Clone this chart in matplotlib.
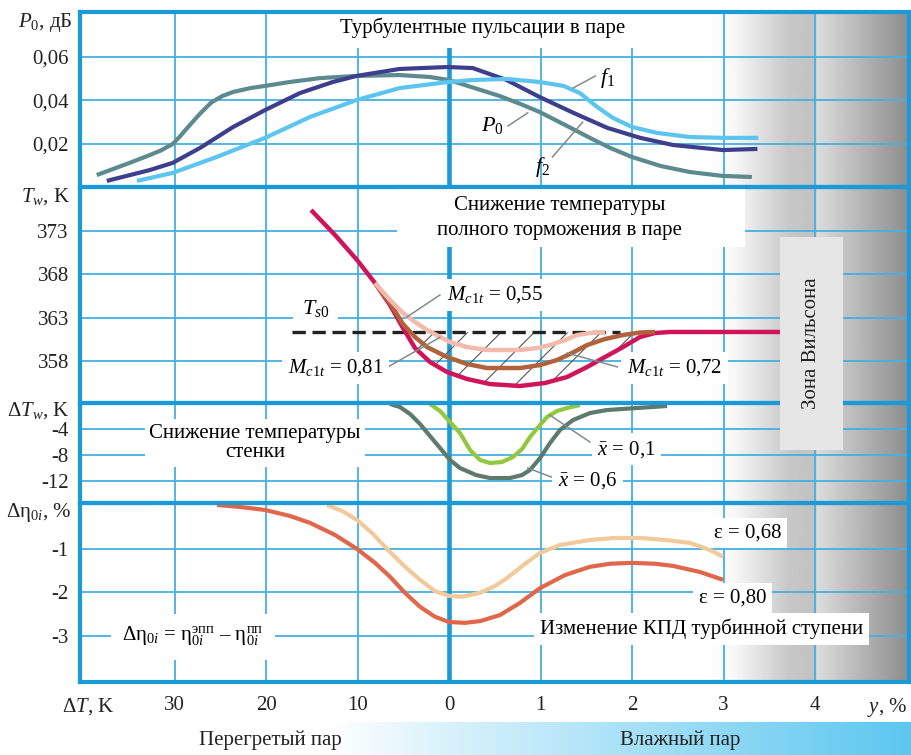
import numpy as np
import matplotlib.pyplot as plt
from matplotlib.patches import Rectangle

plt.rcParams['font.family'] = ['Liberation Serif', 'DejaVu Serif']
plt.rcParams['mathtext.fontset'] = 'custom'
plt.rcParams['mathtext.rm'] = 'Liberation Serif'
plt.rcParams['mathtext.it'] = 'Liberation Serif:italic'
plt.rcParams['mathtext.bf'] = 'Liberation Serif:bold'
plt.rcParams['axes.unicode_minus'] = False
plt.rcParams['hatch.color'] = '#555555'
plt.rcParams['hatch.linewidth'] = 0.8

# общая ось абсцисс: слева -ΔT/10 (перегретый пар), справа y, % (влажный пар)
# --- турбулентные пульсации
f2_x = [-3.85, -3.49, -3.27, -3.15, -3.02, -2.94, -2.86, -2.72, -2.60, -2.48, -2.36, -2.17, -2.01, -1.74,
        -1.41, -1.01, -0.54, -0.21, 0.0, 0.28, 0.55, 0.78, 0.99, 1.27, 1.54, 1.76, 2.0, 2.31, 2.63, 2.99, 3.31]
f2_y = [0.0057, 0.0113, 0.0149, 0.0170, 0.020, 0.0235, 0.0274, 0.0340, 0.0390, 0.0420, 0.0439, 0.0457,
        0.0467, 0.0485, 0.0503, 0.0513, 0.0517, 0.0508, 0.0494, 0.0457, 0.0421, 0.0384, 0.0347, 0.0287,
        0.0228, 0.0182, 0.0140, 0.0099, 0.0071, 0.0053, 0.0048]
p0_x = [-3.74, -3.27, -3.02, -2.72, -2.36, -2.01, -1.63, -1.27, -1.01, -0.54, -0.01, 0.26, 0.63, 0.99,
        1.36, 1.73, 2.09, 2.45, 2.99, 3.37]
p0_y = [0.0030, 0.0080, 0.0113, 0.0182, 0.0278, 0.0356, 0.0434, 0.0485, 0.0513, 0.0545, 0.0554, 0.0549,
        0.0494, 0.0416, 0.0343, 0.0274, 0.0228, 0.0195, 0.0172, 0.0177]
f1_x = [-3.41, -3.02, -2.54, -2.01, -1.52, -1.01, -0.54, -0.01, 0.26, 0.63, 0.99, 1.25, 1.43, 1.62, 1.79,
        2.0, 2.27, 2.63, 2.99, 3.38]
f1_y = [0.003, 0.0067, 0.0140, 0.0228, 0.0324, 0.0402, 0.0457, 0.0485, 0.0494, 0.0499, 0.0485, 0.0467,
        0.0434, 0.0370, 0.0320, 0.0278, 0.0251, 0.0232, 0.0228, 0.0228]

# --- температура торможения, K
ts0 = 361.3
red_x = [-1.508, -1.246, -1.005, -0.809, -0.645, -0.503, -0.372, -0.208, -0.022, 0.197, 0.448, 0.776,
         1.049, 1.290, 1.508, 1.705, 1.902, 2.087, 2.251, 2.415, 3.617]
red_y = [375.41, 372.53, 369.64, 366.98, 364.44, 361.79, 359.48, 357.86, 356.71, 355.90, 355.32, 355.09,
         355.44, 356.13, 357.28, 358.44, 359.59, 360.75, 361.21, 361.33, 361.33]
brown_x = [-0.809, -0.645, -0.503, -0.372, -0.240, -0.022, 0.197, 0.415, 0.776, 0.995, 1.180, 1.344,
           1.508, 1.705, 1.902, 2.087, 2.251]
brown_y = [366.98, 364.67, 362.25, 360.75, 359.59, 358.44, 357.63, 357.17, 357.17, 357.51, 358.09,
           358.90, 359.82, 360.52, 360.98, 361.27, 361.33]
pink_x = [-0.809, -0.645, -0.503, -0.372, -0.240, -0.098, 0.011, 0.197, 0.415, 0.776, 0.962, 1.104,
          1.268, 1.399, 1.541, 1.705]
pink_y = [366.98, 365.02, 363.52, 362.48, 361.56, 360.75, 360.17, 359.59, 359.25, 359.25, 359.48,
          359.82, 360.40, 360.98, 361.21, 361.33]

# --- снижение температуры стенки, K
x01_x = [-0.208, -0.098, 0.011, 0.120, 0.230, 0.339, 0.448, 0.579, 0.699, 0.798, 0.885, 0.995, 1.071,
         1.180, 1.290, 1.432]
x01_y = [-0.15, -1.23, -2.92, -4.62, -7.23, -8.77, -9.23, -9.08, -8.31, -7.08, -5.23, -3.38, -2.15,
         -1.23, -0.77, -0.31]
x06_x = [-0.645, -0.536, -0.426, -0.317, -0.208, -0.098, 0.011, 0.120, 0.295, 0.448, 0.667, 0.798,
         0.885, 0.995, 1.104, 1.213, 1.355, 1.541, 1.727, 2.055, 2.383]
x06_y = [-0.15, -0.62, -1.69, -3.23, -5.08, -6.92, -8.77, -10.0, -11.08, -11.54, -11.54, -11.08,
         -10.31, -8.46, -6.15, -4.15, -2.62, -1.54, -1.08, -0.77, -0.46]

# --- изменение КПД, %
e80_x = [-2.536, -2.284, -2.011, -1.738, -1.519, -1.246, -1.005, -0.809, -0.645, -0.481, -0.317,
         -0.153, 0.0, 0.175, 0.339, 0.557, 0.776, 0.995, 1.268, 1.541, 1.760, 2.0, 2.251, 2.448, 2.743, 2.995]
e80_y = [0.011, -0.034, -0.103, -0.241, -0.40, -0.678, -1.0, -1.32, -1.64, -2.01, -2.33, -2.56, -2.68,
         -2.70, -2.66, -2.52, -2.24, -1.90, -1.60, -1.41, -1.34, -1.32, -1.34, -1.39, -1.53, -1.71]
e68_x = [-1.333, -1.169, -1.005, -0.842, -0.667, -0.481, -0.317, -0.153, 0.0, 0.142, 0.339, 0.503,
         0.634, 0.831, 0.995, 1.213, 1.541, 1.814, 2.087, 2.361, 2.634, 2.852, 2.995]
e68_y = [0.011, -0.126, -0.333, -0.632, -1.023, -1.41, -1.71, -1.97, -2.08, -2.10, -2.01, -1.85, -1.67,
         -1.34, -1.09, -0.908, -0.793, -0.747, -0.747, -0.793, -0.862, -1.023, -1.18]

xtick_pos = [-3, -2, -1, 0, 1, 2, 3, 4]
xtick_lab = ['30', '20', '10', '0', '1', '2', '3', '4']

BLUE = '#1a9ad6'
GRID = '#45b0e0'
LEAD = '#7f8c8d'
FS = 15

fig = plt.figure(figsize=(9.12, 7.55), dpi=100)
W, H = 912, 755


def rect(top, bottom, left=80, right=909):
    return [left / W, 1 - bottom / H, (right - left) / W, (bottom - top) / H]


def curve(ax, x, y, color, lw=3, z=3):
    ax.plot(x, y, color=color, lw=lw, solid_capstyle='butt', solid_joinstyle='round', zorder=z)


# серый фон справа
bg = fig.add_axes(rect(12, 682))
bg.set_zorder(-1)
xpix = np.arange(80, 910)
shade = np.interp(xpix, [80, 705, 735, 790, 815, 818, 909], [1, 1, 0.97, 0.78, 0.76, 0.86, 0.55])
bg.imshow(shade[None, :], cmap='gray', vmin=0, vmax=1, aspect='auto', extent=[0, 1, 0, 1])
bg.axis('off')

# голубая полоса внизу
band = fig.add_axes([0, 0, 1, 33 / H])
band.set_zorder(-1)
bx = np.arange(0, 912)
t = np.interp(bx, [0, 330, 440, 912], [0, 0, 0.22, 1])
c0 = np.array([1, 1, 1])
c1 = np.array([0.36, 0.78, 0.94])
img = (1 - t)[:, None] * c0 + t[:, None] * c1
band.imshow(img[None, :, :], aspect='auto', extent=[0, 1, 0, 1])
band.axis('off')

xlim = (-4.033, 5.027)
panels = [
    (12, 187, (0.0002, 0.0807), [0.02, 0.04, 0.06], ['0,02', '0,04', '0,06']),
    (187, 403, (353.13, 378.07), [358, 363, 368, 373], ['358', '363', '368', '373']),
    (403, 503, (-15.38, 0.0), [-12, -8, -4], ['-12', '-8', '-4']),
    (503, 682, (-4.06, 0.057), [-3, -2, -1], ['-3', '-2', '-1']),
]
axes = []
for top, bottom, ylim, yt, yl in panels:
    ax = fig.add_axes(rect(top, bottom))
    ax.set_facecolor('none')
    ax.set_xlim(*xlim)
    ax.set_ylim(*ylim)
    ax.set_xticks(xtick_pos)
    ax.set_xticklabels([])
    ax.set_yticks(yt)
    ax.set_yticklabels(yl, fontsize=FS, color='#222222')
    ax.tick_params(length=0, pad=8)
    ax.grid(True, color=GRID, lw=1.3)
    ax.set_axisbelow(True)
    ax.axvline(0, color=BLUE, lw=3.3, zorder=1)
    for s in ax.spines.values():
        s.set_color(BLUE)
        s.set_linewidth(3)
        s.set_zorder(10)
    axes.append(ax)
ax1, ax2, ax3, ax4 = axes

ax4.set_xticklabels(xtick_lab, fontsize=FS, color='#222222')
ax4.tick_params(axis='x', pad=10)

box = dict(facecolor='white', edgecolor='none', pad=4)

# панель 1
curve(ax1, f2_x, f2_y, '#5c8a8f')
curve(ax1, p0_x, p0_y, '#3d3f8c')
curve(ax1, f1_x, f1_y, '#5bc4ef')
ax1.text(0.37, 0.0733, 'Турбулентные пульсации в паре', ha='center', va='center', fontsize=FS,
         bbox=dict(facecolor='white', edgecolor='none', pad=7), zorder=4, clip_on=True)
ax1.plot([1.355, 1.60], [0.0457, 0.0513], color=LEAD, lw=1.1, zorder=3)
ax1.plot([0.645, 0.86], [0.0283, 0.0343], color=LEAD, lw=1.1, zorder=3)
ax1.plot([1.13, 1.46], [0.014, 0.030], color=LEAD, lw=1.1, zorder=3)
ax1.text(1.73, 0.0503, '$f_1$', ha='center', va='center', fontsize=FS + 1)
ax1.text(0.47, 0.0287, '$P_0$', ha='center', va='center', fontsize=FS + 1)
ax1.text(1.02, 0.0094, '$f_2$', ha='center', va='center', fontsize=FS + 1)

# панель 2
ax2.add_patch(Rectangle((-0.57, 371.1), 3.81, 7.5, facecolor='white', edgecolor='none', zorder=3))
ax2.text(1.21, 374.5, 'Снижение температуры\nполного торможения в паре', ha='center', va='center',
         fontsize=FS, linespacing=1.45, zorder=4)
rx = np.array(red_x)
ry = np.array(red_y)
sel = (rx > -0.55) & (rx < 2.3)
ax2.fill_between(rx[sel], ry[sel], ts0, facecolor='none', edgecolor='#555555', lw=0,
                 hatch='/', zorder=1.5)
ax2.plot([-1.72, 1.87], [ts0, ts0], color='#222222', lw=2.4, ls=(0, (4, 2)), zorder=2)
curve(ax2, red_x, red_y, '#d0145a', lw=3.2)
curve(ax2, brown_x, brown_y, '#b0623a', lw=3.2)
curve(ax2, pink_x, pink_y, '#f3b9ab', lw=3.2)
ax2.text(-1.46, 364.0, '$T_{s0}$', ha='center', va='center', fontsize=FS + 1,
         bbox=dict(facecolor='white', edgecolor='none', pad=6), zorder=4)
ax2.plot([-0.46, -0.10], [363.06, 365.6], color=LEAD, lw=1.1, zorder=3.5)
ax2.plot([-0.667, -0.10], [357.3, 360.7], color=LEAD, lw=1.1, zorder=3.5)
ax2.plot([1.29, 1.84], [358.9, 357.3], color=LEAD, lw=1.1, zorder=3.5)
ax2.text(-0.02, 365.6, '$M_{c1t}$ = 0,55', ha='left', va='center', fontsize=FS, bbox=box, zorder=4)
ax2.text(-0.72, 357.2, '$M_{c1t}$ = 0,81', ha='right', va='center', fontsize=FS, bbox=box, zorder=4)
ax2.text(1.945, 357.2, '$M_{c1t}$ = 0,72', ha='left', va='center', fontsize=FS, bbox=box, zorder=4)

# панель 3
curve(ax3, x06_x, x06_y, '#5d7a6a')
curve(ax3, x01_x, x01_y, '#92c83e')
ax3.text(-2.12, -6.15, 'Снижение температуры\nстенки', ha='center', va='center', fontsize=FS,
         linespacing=1.05, bbox=dict(facecolor='white', edgecolor='none', pad=3), zorder=4)
ax3.plot([1.10, 1.54], [-1.85, -6.0], color=LEAD, lw=1.1, zorder=3.5)
ax3.plot([0.86, 1.14], [-10.0, -11.5], color=LEAD, lw=1.1, zorder=3.5)
ax3.text(1.62, -7.1, r'$\bar{x}$ = 0,1', ha='left', va='center', fontsize=FS, bbox=box, zorder=4)
ax3.text(1.19, -12.0, r'$\bar{x}$ = 0,6', ha='left', va='center', fontsize=FS, bbox=box, zorder=4)

# панель 4
curve(ax4, e68_x, e68_y, '#f2c99b')
curve(ax4, e80_x, e80_y, '#e0674a')
ax4.text(3.26, -0.63, 'ε = 0,68', ha='center', va='center', fontsize=FS, bbox=box, zorder=4)
ax4.text(3.10, -2.13, 'ε = 0,80', ha='center', va='center', fontsize=FS, bbox=box, zorder=4)
ax4.text(2.76, -2.84, 'Изменение КПД турбинной ступени', ha='center', va='center', fontsize=FS,
         bbox=box, zorder=4)
ax4.text(-2.80, -3.02, r'Δη$_{0i}$ = η$_{0i}^{\mathrm{эпп}}$ – η$_{0i}^{\mathrm{пп}}$', ha='center',
         va='center', fontsize=FS, bbox=dict(facecolor='white', edgecolor='none', pad=8), zorder=4)
ax4.annotate('Δ$T$, K', xy=(-3.946, 0), xycoords=('data', 'axes fraction'), xytext=(0, -10),
             textcoords='offset points', ha='center', va='top', fontsize=FS, color='#222222')
ax4.annotate('$y$, %', xy=(4.79, 0), xycoords=('data', 'axes fraction'), xytext=(0, -10),
             textcoords='offset points', ha='center', va='top', fontsize=FS, color='#222222')

# подписи осей
for txt, xp, yp in [('$P_0$, дБ', 72, 22), ('$T_w$, K', 70, 197),
                    ('Δ$T_w$, K', 70, 411), ('Δη$_{0i}$, %', 72, 513)]:
    fig.text(xp / W, 1 - yp / H, txt, ha='right', va='center', fontsize=FS, color='#222222')

# зона Вильсона
fig.patches.append(Rectangle((780 / W, 1 - 450 / H), 63 / W, 213 / H, transform=fig.transFigure,
                             facecolor='#e6e6e6', edgecolor='none', zorder=5))
fig.text(812 / W, 1 - 343 / H, 'Зона Вильсона', rotation=90, ha='center', va='center',
         fontsize=FS, color='#222222', zorder=6)

fig.text(270 / W, 1 - 740 / H, 'Перегретый пар', ha='center', va='center', fontsize=FS, color='#222222')
fig.text(680 / W, 1 - 740 / H, 'Влажный пар', ha='center', va='center', fontsize=FS, color='#222222')

fig.savefig('out.png', dpi=100)
